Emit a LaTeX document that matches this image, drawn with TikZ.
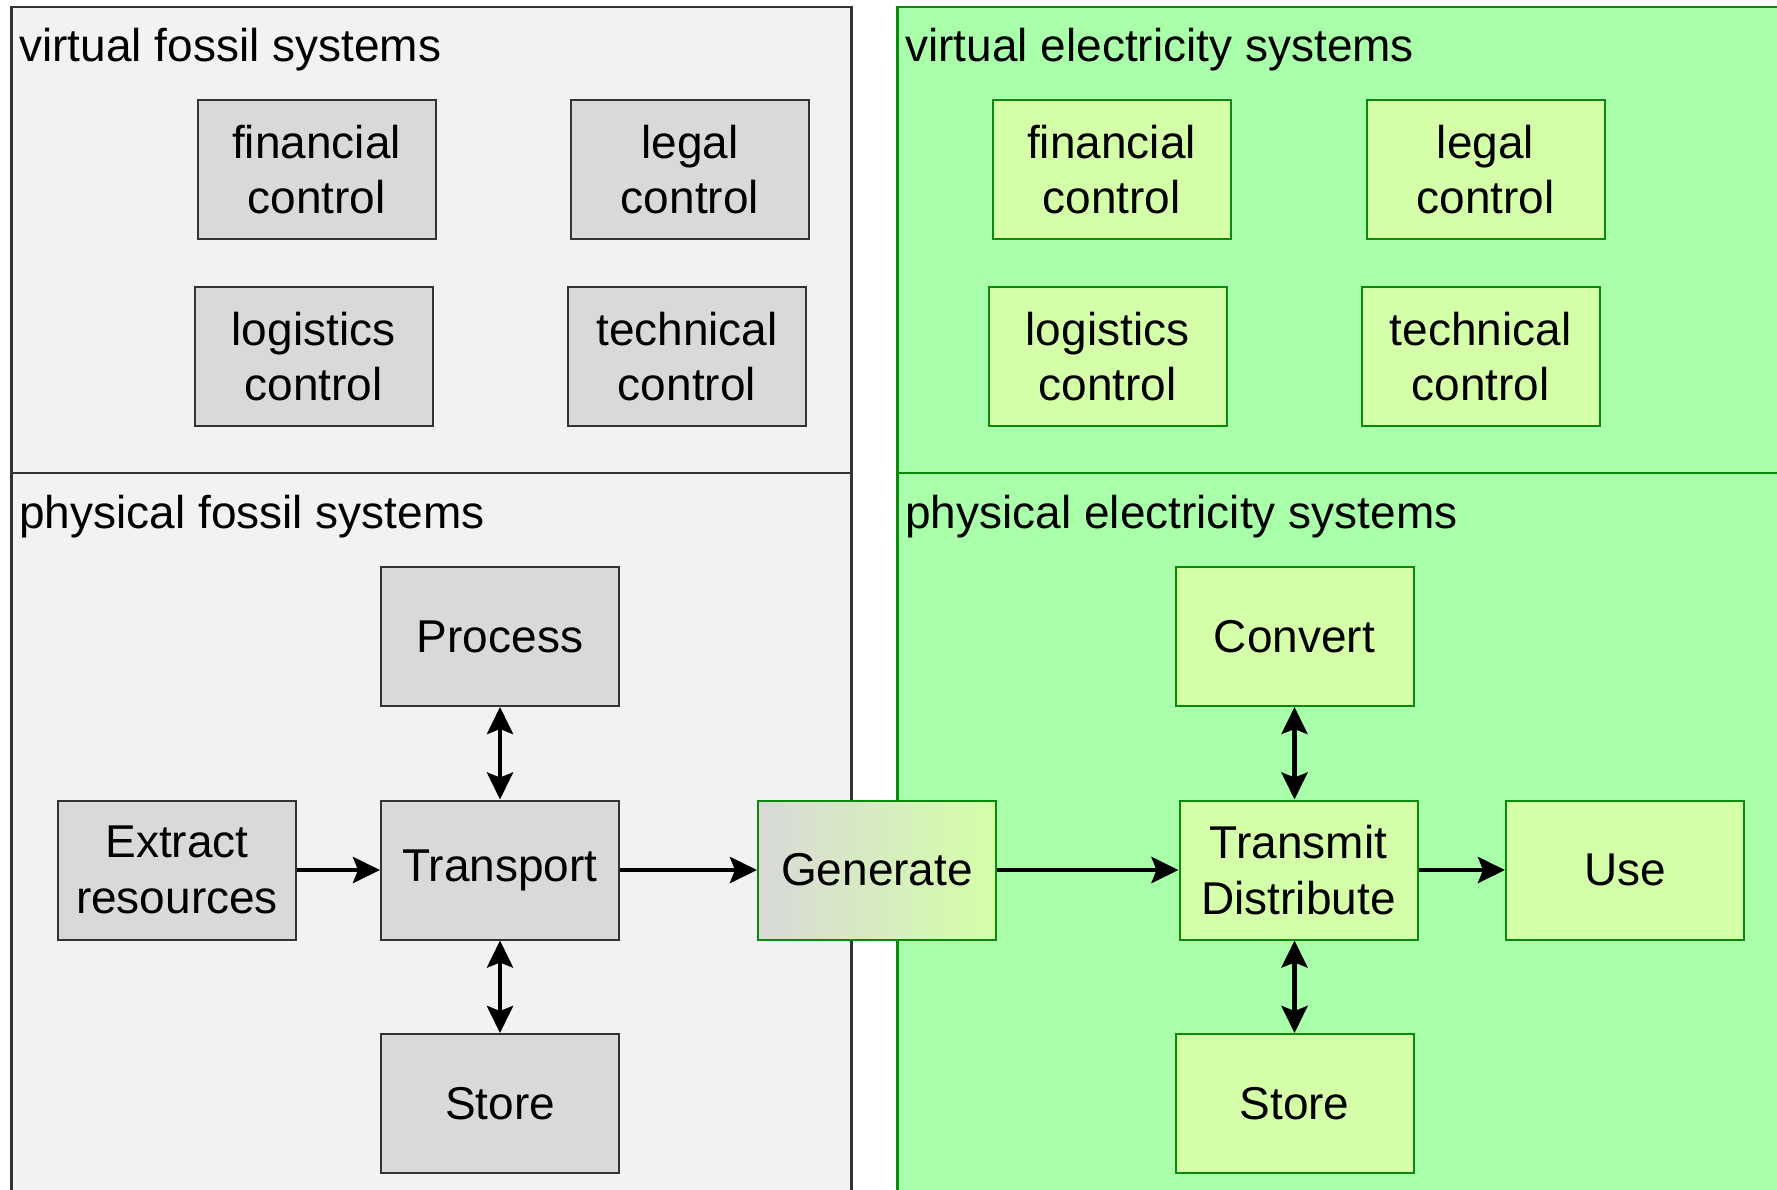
\documentclass[tikz,border=0pt]{standalone}
\usepackage{fontspec}
\setmainfont{Liberation Sans}
\usetikzlibrary{arrows.meta}
\definecolor{panelgray}{HTML}{F2F2F2}
\definecolor{boxgray}{HTML}{D9D9D9}
\definecolor{linegray}{HTML}{333333}
\definecolor{panelgreen}{HTML}{AAFFAA}
\definecolor{boxgreen}{HTML}{D4FFA8}
\definecolor{linegreen}{HTML}{0A8A0A}

\begin{document}
\begin{tikzpicture}[x=0.5pt, y=-0.5pt,
    font=\fontsize{23}{27.8}\selectfont,
    >={Stealth[length=13.5pt,width=13pt,inset=2.5pt]},
    fbox/.style={draw=linegray, fill=boxgray, line width=1pt, minimum width=119pt, minimum height=69.5pt, inner sep=0pt, align=center},
    ebox/.style={fbox, draw=linegreen, fill=boxgreen},
    title/.style={anchor=west, inner sep=0pt},
    flow/.style={line width=2.3pt}]
    \useasboundingbox (0,0) rectangle (1777,1189);
    \clip (0,0) rectangle (1777,1189);
    % panels
    \draw[draw=linegray, fill=panelgray, line width=1.3pt] (11.5,7) rectangle (851.5,473);
    \draw[draw=linegray, fill=panelgray, line width=1.3pt] (11.5,473) rectangle (851.5,1210);
    \draw[draw=linegreen, fill=panelgreen, line width=1.3pt] (897.5,7) rectangle (1800,473);
    \draw[draw=linegreen, fill=panelgreen, line width=1.3pt] (897.5,473) rectangle (1800,1210);
    \node(vf)[title] at (19,50) {virtual fossil systems};
    \node(pf)[title] at (19,517) {physical fossil systems};
    \node(ve)[title] at (905,50) {virtual electricity systems};
    \node(pe)[title] at (905,517) {physical electricity systems};
    % virtual fossil
    \node(ffin)[fbox] at (316.5,169.5) {financial\\control};
    \node(fleg)[fbox] at (690,169.5) {legal\\control};
    \node(flog)[fbox] at (313.5,356.5) {logistics\\control};
    \node(ftec)[fbox] at (687,356.5) {technical\\control};
    % virtual electricity
    \node(efin)[ebox] at (1111.5,169.5) {financial\\control};
    \node(eleg)[ebox] at (1485.5,169.5) {legal\\control};
    \node(elog)[ebox] at (1107.5,356.5) {logistics\\control};
    \node(etec)[ebox] at (1480.5,356.5) {technical\\control};
    % physical fossil
    \node(proc)[fbox] at (500,636.5) {Process};
    \node(extr)[fbox] at (177,870) {Extract\\resources};
    \node(trans)[fbox] at (500,870) {Transport};
    \node(fsto)[fbox] at (500,1103.5) {Store};
    % physical electricity
    \node(gen)[ebox, left color=boxgray, right color=boxgreen] at (877,870) {Generate};
    \node(conv)[ebox] at (1294.5,636.5) {Convert};
    \node(tdis)[ebox] at (1298.5,870) {Transmit\\Distribute};
    \node(use)[ebox] at (1625,870) {Use};
    \node(esto)[ebox] at (1294.5,1103.5) {Store};
    \draw[flow, ->] (extr) -- (trans);
    \draw[flow, <->] (proc) -- (proc |- trans.north);
    \draw[flow, <->] (proc |- trans.south) -- (fsto);
    \draw[flow, ->] (trans) -- (gen);
    \draw[flow, ->] (gen) -- (tdis);
    \draw[flow, <->] (conv) -- (conv |- tdis.north);
    \draw[flow, <->] (conv |- tdis.south) -- (esto);
    \draw[flow, ->] (tdis) -- (use);
  \end{tikzpicture}
\end{document}
